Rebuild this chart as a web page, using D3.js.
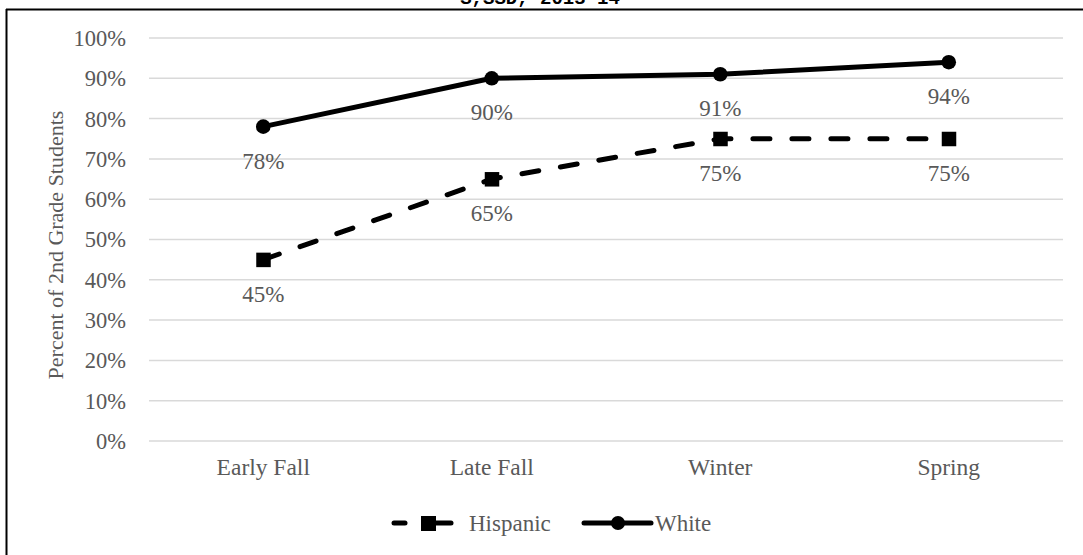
<!DOCTYPE html>
<html><head><meta charset="utf-8">
<script src="https://cdn.jsdelivr.net/npm/d3@7"></script>
<style>body{margin:0;background:#fff}svg{display:block}</style>
</head><body>
<svg id="c" width="1083" height="555"></svg>
<script>
const categories = ["Early Fall", "Late Fall", "Winter", "Spring"];
const hispanic = [0.45, 0.65, 0.75, 0.75];
const white = [0.78, 0.90, 0.91, 0.94];
const yTicks = [0, 0.1, 0.2, 0.3, 0.4, 0.5, 0.6, 0.7, 0.8, 0.9, 1.0];
const seriesNames = ["Hispanic", "White"];
const titleTail = "S,SSD, 2013–14";
const yTitle = "Percent of 2nd Grade Students";

const svg = d3.select("#c");
const font = "'Liberation Serif','Times New Roman',serif";
const txt = "#595959";

const x = d3.scaleBand().domain(categories).range([149, 1063]).padding(0);
const y = d3.scaleLinear().domain([0, 1]).range([441, 38]);
const cx = d => x(d) + x.bandwidth() / 2;

// frame lines
svg.append("line").attr("x1", 6).attr("x2", 1083).attr("y1", 9.5).attr("y2", 9.5).attr("stroke", "#000").attr("stroke-width", 2);
svg.append("line").attr("x1", 6.5).attr("x2", 6.5).attr("y1", 9).attr("y2", 555).attr("stroke", "#000").attr("stroke-width", 2);

// clipped title (cut by the top edge, as in the reference)
svg.append("text").attr("x", 540).attr("y", 4).attr("text-anchor", "middle")
  .attr("font-family", "'Liberation Mono','DejaVu Sans Mono',monospace").attr("font-weight", "bold")
  .attr("font-size", 19).attr("fill", "#000").text(titleTail);

// gridlines
svg.append("g").selectAll("line").data(yTicks).join("line")
  .attr("x1", 149).attr("x2", 1063)
  .attr("y1", d => y(d)).attr("y2", d => y(d))
  .attr("stroke", "#d9d9d9").attr("stroke-width", 1.5);

// y axis labels
const yAxis = d3.axisLeft(y).tickValues(yTicks).tickFormat(d3.format(".0%")).tickSize(0).tickPadding(0);
const gy = svg.append("g").attr("transform", "translate(126,0)").call(yAxis);
gy.select(".domain").remove();
gy.selectAll("text").attr("font-family", font).attr("font-size", 22.5).attr("fill", txt).attr("dy", "0.33em");

// x axis labels
const xAxis = d3.axisBottom(x).tickSize(0).tickPadding(0);
const gx = svg.append("g").attr("transform", "translate(0,458)").call(xAxis);
gx.select(".domain").remove();
gx.selectAll("text").attr("font-family", font).attr("font-size", 23.5).attr("fill", txt).attr("dy", "0.71em");

// y title
svg.append("text").attr("transform", "translate(63,245) rotate(-90)").attr("text-anchor", "middle")
  .attr("font-family", font).attr("font-size", 22).attr("fill", txt).text(yTitle);

const line = d3.line().x((d, i) => cx(categories[i])).y(d => y(d));

// Hispanic
svg.append("path").datum(hispanic).attr("d", line).attr("fill", "none").attr("stroke", "#000")
  .attr("stroke-width", 5).attr("stroke-dasharray", "17,22").attr("stroke-linecap", "round");
svg.append("g").selectAll("rect").data(hispanic).join("rect")
  .attr("x", (d, i) => cx(categories[i]) - 7).attr("y", d => y(d) - 7)
  .attr("width", 14.5).attr("height", 14.5).attr("fill", "#000");

// White
svg.append("path").datum(white).attr("d", line).attr("fill", "none").attr("stroke", "#000")
  .attr("stroke-width", 5).attr("stroke-linejoin", "round").attr("stroke-linecap", "round");
svg.append("g").selectAll("circle").data(white).join("circle")
  .attr("cx", (d, i) => cx(categories[i])).attr("cy", d => y(d)).attr("r", 7.3).attr("fill", "#000");

// data labels
const fmt = d3.format(".0%");
[hispanic, white].forEach(s => {
  svg.append("g").selectAll("text").data(s).join("text")
    .attr("x", (d, i) => cx(categories[i])).attr("y", d => y(d) + 42)
    .attr("text-anchor", "middle").attr("font-family", font).attr("font-size", 23).attr("fill", txt)
    .text(d => fmt(d));
});

// legend
const ly = 523;
const lg = svg.append("g");
lg.append("line").attr("x1", 394).attr("x2", 405).attr("y1", ly).attr("y2", ly).attr("stroke", "#000").attr("stroke-width", 5).attr("stroke-linecap", "round");
lg.append("line").attr("x1", 432).attr("x2", 451).attr("y1", ly).attr("y2", ly).attr("stroke", "#000").attr("stroke-width", 5).attr("stroke-linecap", "round");
lg.append("rect").attr("x", 421).attr("y", ly - 7).attr("width", 15).attr("height", 15).attr("fill", "#000");
lg.append("text").attr("x", 469).attr("y", ly).attr("dy", "0.35em").attr("font-family", font).attr("font-size", 23).attr("fill", txt).text(seriesNames[0]);
lg.append("line").attr("x1", 584).attr("x2", 651).attr("y1", ly).attr("y2", ly).attr("stroke", "#000").attr("stroke-width", 5).attr("stroke-linecap", "round");
lg.append("circle").attr("cx", 618).attr("cy", ly).attr("r", 7).attr("fill", "#000");
lg.append("text").attr("x", 655).attr("y", ly).attr("dy", "0.35em").attr("font-family", font).attr("font-size", 23).attr("fill", txt).text(seriesNames[1]);
</script>
</body></html>
